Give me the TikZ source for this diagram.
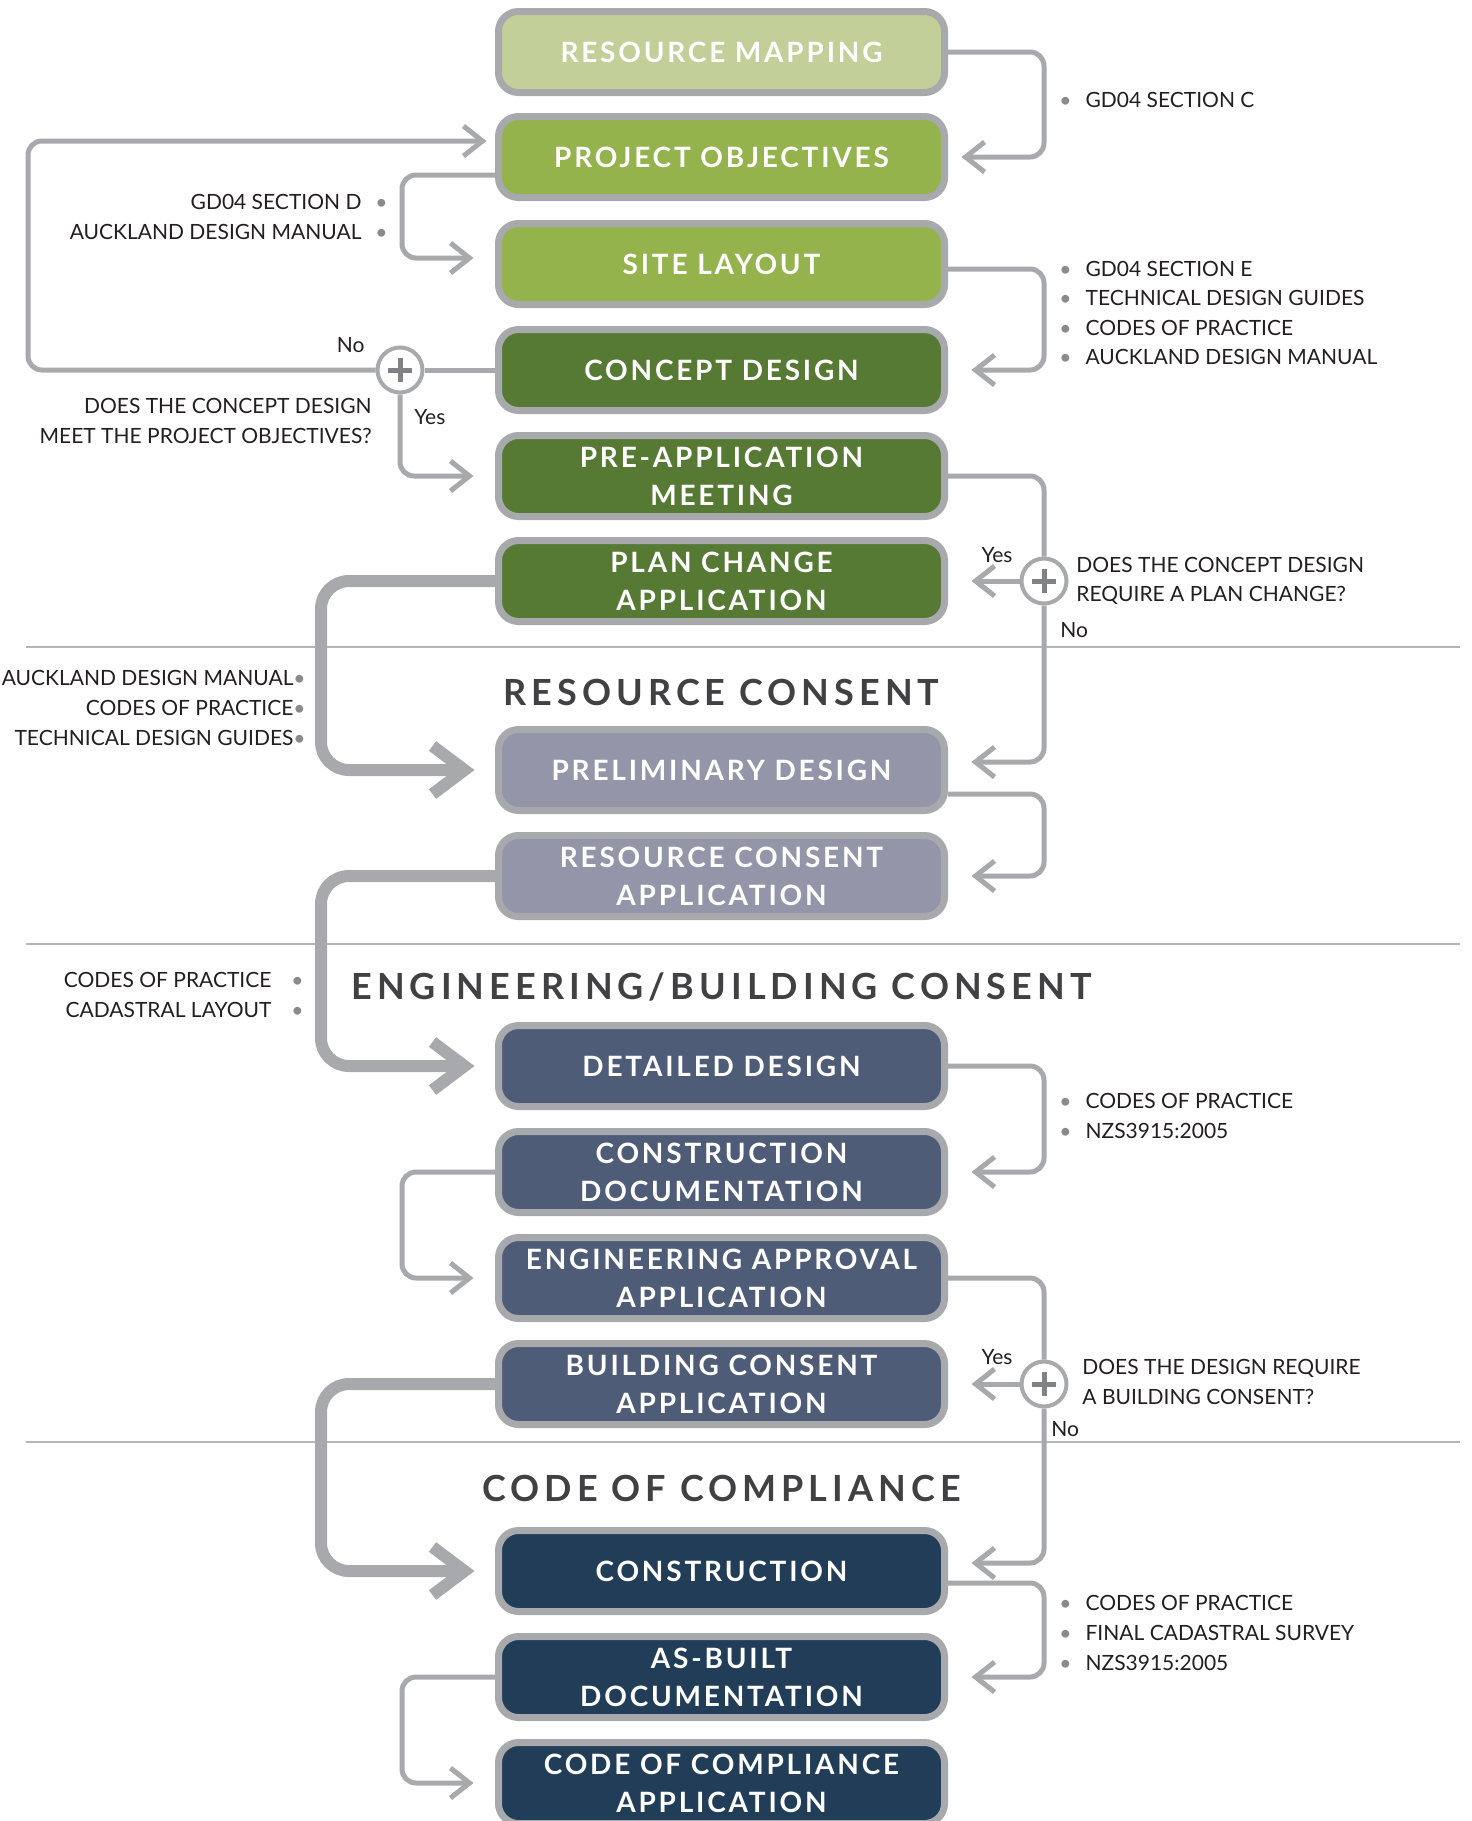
\documentclass[tikz,border=0pt]{standalone}
\usepackage{fontspec}
\setmainfont{Lato}
\newfontfamily\stagefont[LetterSpace=10]{Lato}
\newfontfamily\headfont[LetterSpace=14]{Lato}
\newfontfamily\notefont{Lato}
\usetikzlibrary{arrows.meta}

\definecolor{mapgreen}{HTML}{C2CF98}
\definecolor{leafgreen}{HTML}{95B34C}
\definecolor{mossgreen}{HTML}{567A33}
\definecolor{lavender}{HTML}{9296A8}
\definecolor{slate}{HTML}{4E5C77}
\definecolor{navy}{HTML}{213D58}
\definecolor{edgegrey}{HTML}{A7A9AC}
\definecolor{plusgrey}{HTML}{808285}
\definecolor{rulegrey}{HTML}{B5B5B7}
\definecolor{headgrey}{HTML}{414042}
\definecolor{notegrey}{HTML}{231F20}
\definecolor{dotgrey}{HTML}{8A8A8D}

\newcommand\dotr{\textcolor{dotgrey}{\textbullet}\hspace{7pt}}
\newcommand\dotl{\hspace{7pt}\textcolor{dotgrey}{\textbullet}}

\tikzset{
  stage/.style={draw=edgegrey, line width=3.5pt, rounded corners=10pt,
    minimum width=223pt, minimum height=40.5pt, inner sep=0pt, align=center,
    text=white, font=\stagefont\bfseries\fontsize{14}{19}\selectfont},
  heading/.style={text=headgrey, inner sep=0pt,
    font=\headfont\bfseries\fontsize{18}{22}\selectfont},
  note/.style={inner sep=0pt, text=notegrey,
    font=\notefont\fontsize{10.5}{14.8}\selectfont},
  decision/.style={circle, draw=edgegrey, line width=2pt, fill=white,
    minimum size=22.5pt, inner sep=0pt},
  link/.style={draw=edgegrey, line width=2.5pt, rounded corners=7pt,
    -{Straight Barb[length=9.5pt,width=15pt]}},
  trunk/.style={draw=edgegrey, line width=6pt, rounded corners=14pt,
    -{Straight Barb[sharp,length=16pt,width=24pt]}},
  plain/.style={draw=edgegrey, line width=2.5pt},
  plus/.style={draw=plusgrey, line width=2.5pt},
  rule/.style={draw=rulegrey, line width=1.2pt}
}

\begin{document}
\begin{tikzpicture}[x=0.5pt, y=-0.5pt]
  \fill[white] (0,0) rectangle (1472,1821);
  \useasboundingbox (0,0) rectangle (1472,1821);

  % section rules
  \draw[rule] (26,647) -- (1460,647);
  \draw[rule] (26,944) -- (1460,944);
  \draw[rule] (26,1442) -- (1460,1442);

  % stages
  \node[stage, fill=mapgreen] (rm) at (721.5,52) {RESOURCE MAPPING};
  \node[stage, fill=leafgreen] (po) at (721.5,157) {PROJECT OBJECTIVES};
  \node[stage, fill=leafgreen] (sl) at (721.5,264) {SITE LAYOUT};
  \node[stage, fill=mossgreen] (cd) at (721.5,370) {CONCEPT DESIGN};
  \node[stage, fill=mossgreen] (pa) at (721.5,476) {PRE-APPLICATION\\MEETING};
  \node[stage, fill=mossgreen] (pc) at (721.5,581) {PLAN CHANGE\\APPLICATION};
  \node[heading] (hrc) at (721.5,692) {RESOURCE CONSENT};
  \node[stage, fill=lavender] (pd) at (721.5,770) {PRELIMINARY DESIGN};
  \node[stage, fill=lavender] (rc) at (721.5,876) {RESOURCE CONSENT\\APPLICATION};
  \node[heading] (heb) at (721.5,987) {ENGINEERING/BUILDING CONSENT};
  \node[stage, fill=slate] (dd) at (721.5,1066) {DETAILED DESIGN};
  \node[stage, fill=slate] (cdoc) at (721.5,1172) {CONSTRUCTION\\DOCUMENTATION};
  \node[stage, fill=slate] (ea) at (721.5,1278) {ENGINEERING APPROVAL\\APPLICATION};
  \node[stage, fill=slate] (bc) at (721.5,1384) {BUILDING CONSENT\\APPLICATION};
  \node[heading] (hcc) at (721.5,1488) {CODE OF COMPLIANCE};
  \node[stage, fill=navy] (con) at (721.5,1571) {CONSTRUCTION};
  \node[stage, fill=navy] (ab) at (721.5,1677) {AS-BUILT\\DOCUMENTATION};
  \node[stage, fill=navy] (coc) at (721.5,1783) {CODE OF COMPLIANCE\\APPLICATION};

  % decisions
  \node[decision] (q1) at (400,370) {};
  \node[decision] (q2) at (1044,581) {};
  \node[decision] (q3) at (1044,1384) {};
  \foreach \q in {q1,q2,q3}
    \draw[plus] ([xshift=-6pt]\q.center) -- ([xshift=6pt]\q.center)
      ([yshift=-6pt]\q.center) -- ([yshift=6pt]\q.center);

  % thin connectors
  \draw[link] (rm.east) -- (1044,52) -- (1044,157) -- ([xshift=6.75pt]po.east);
  \draw[link] ([yshift=-9pt]po.west) -- (402,175) -- (402,258) -- ([xshift=-10.75pt,yshift=3pt]sl.west);
  \draw[link] ([yshift=-2.5pt]sl.east) -- (1044,269) -- (1044,370) -- ([xshift=11.75pt]cd.east);
  \draw[plain] (cd.west) -- (q1.east);
  \draw[link] (q1.west) -- (28,370) -- (28,141) -- ([xshift=-4.25pt,yshift=8pt]po.west);
  \draw[link] (q1.south) -- (400,476) -- ([xshift=-10.75pt]pa.west);
  \draw[plain, rounded corners=7pt] (pa.east) -- (1044,476) -- (q2.north);
  \draw[link] (q2.west) -- ([xshift=11.75pt]pc.east);
  \draw[link] (q2.south) -- (1044,762) -- ([xshift=11.75pt,yshift=4pt]pd.east);
  \draw[link] ([yshift=-12pt]pd.east) -- (1044,794) -- (1044,876) -- ([xshift=11.75pt]rc.east);
  \draw[link] (dd.east) -- (1044,1066) -- (1044,1172) -- ([xshift=11.75pt]cdoc.east);
  \draw[link] (cdoc.west) -- (402,1172) -- (402,1278) -- ([xshift=-10.75pt]ea.west);
  \draw[plain, rounded corners=7pt] (ea.east) -- (1044,1278) -- (q3.north);
  \draw[link] (q3.west) -- ([xshift=11.75pt]bc.east);
  \draw[link] (q3.south) -- (1044,1563) -- ([xshift=11.75pt,yshift=4pt]con.east);
  \draw[link] ([yshift=-6pt]con.east) -- (1044,1583) -- (1044,1677) -- ([xshift=11.75pt]ab.east);
  \draw[link] (ab.west) -- (402,1677) -- (402,1783) -- ([xshift=-10.75pt]coc.west);

  % thick connectors
  \draw[trunk] (pc.west) -- (321,581) -- (321,770) -- ([xshift=-10.25pt]pd.west);
  \draw[trunk] (rc.west) -- (321,876) -- (321,1066) -- ([xshift=-10.25pt]dd.west);
  \draw[trunk] (bc.west) -- (321,1384) -- (321,1571) -- ([xshift=-10.25pt]con.west);

  % references
  \node[note, anchor=west] (ra) at (1059,100) {\dotr GD04 SECTION C};
  \node[note, anchor=east, align=right] (rb) at (388,217)
    {GD04 SECTION D\dotl\\AUCKLAND DESIGN MANUAL\dotl};
  \node[note, anchor=west, align=left] (rcx) at (1059,313)
    {\dotr GD04 SECTION E\\\dotr TECHNICAL DESIGN GUIDES\\\dotr CODES OF PRACTICE\\\dotr AUCKLAND DESIGN MANUAL};
  \node[note, anchor=east, align=right] (rd) at (306,708)
    {AUCKLAND DESIGN MANUAL\textcolor{dotgrey}{\textbullet}\\CODES OF PRACTICE\textcolor{dotgrey}{\textbullet}\\TECHNICAL DESIGN GUIDES\textcolor{dotgrey}{\textbullet}};
  \node[note, anchor=east, align=right] (re) at (304,995)
    {CODES OF PRACTICE\hspace{10pt}\textcolor{dotgrey}{\textbullet}\\CADASTRAL LAYOUT\hspace{10pt}\textcolor{dotgrey}{\textbullet}};
  \node[note, anchor=west, align=left] (rf) at (1059,1116)
    {\dotr CODES OF PRACTICE\\\dotr NZS3915:2005};
  \node[note, anchor=west, align=left] (rg) at (1059,1633)
    {\dotr CODES OF PRACTICE\\\dotr FINAL CADASTRAL SURVEY\\\dotr NZS3915:2005};

  % questions and answers
  \node[note, anchor=east, align=right] (t1) at (372,421)
    {DOES THE CONCEPT DESIGN\\MEET THE PROJECT OBJECTIVES?};
  \node[note, anchor=west, align=left] (t2) at (1076,581)
    {DOES THE CONCEPT DESIGN\\REQUIRE A PLAN CHANGE?};
  \node[note, anchor=west, align=left] (t3) at (1082,1382)
    {DOES THE DESIGN REQUIRE\\A BUILDING CONSENT?};
  \node[note, anchor=east] (no1) at (365,345) {No};
  \node[note, anchor=west] (yes1) at (414,417) {Yes};
  \node[note] (yes2) at (997,555) {Yes};
  \node[note, anchor=west] (no2) at (1060,630) {No};
  \node[note] (yes3) at (997,1357) {Yes};
  \node[note, anchor=west] (no3) at (1051,1429) {No};
\end{tikzpicture}
\end{document}
